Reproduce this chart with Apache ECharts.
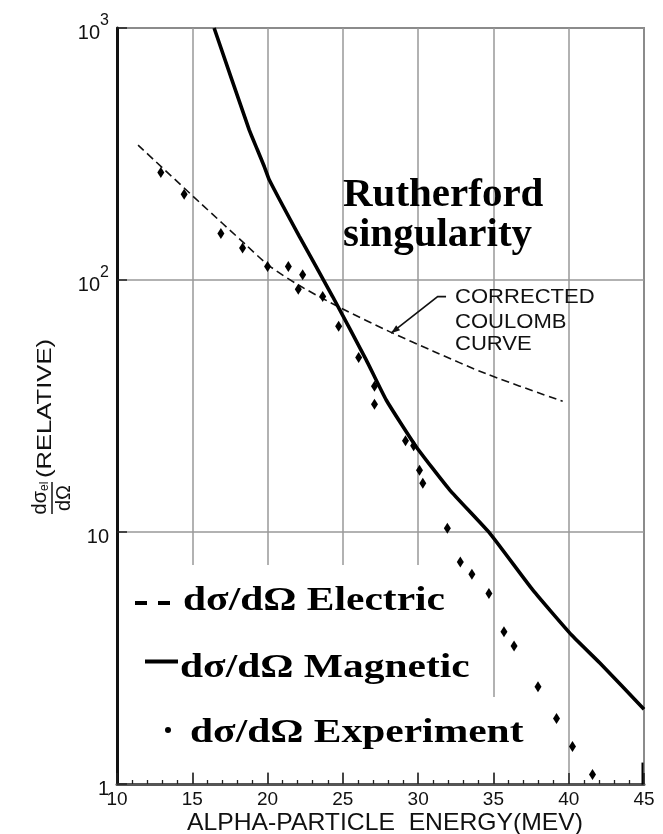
<!DOCTYPE html>
<html>
<head>
<meta charset="utf-8">
<script src="https://cdn.jsdelivr.net/npm/echarts@6/dist/echarts.min.js"></script>
<style>
html,body{margin:0;padding:0;background:#fff;}
#c{width:663px;height:834px;}
</style>
</head>
<body>
<div id="c"></div>
<script>
// ---- data ----
const xTickValues = [10, 15, 20, 25, 30, 35, 40, 45];
const yTickValues = [1, 10, 100, 1000];
const yTickLabels = ['{b|1}', '{b|10}', '{b|10}{s|2}', '{b|10}{s|3}'];

const electricEnergy = [11.4, 15.5, 18.5, 20.1, 22.2, 25.0, 28.1, 31.0, 34.5, 39.6];
const electricValues = [343, 203, 139, 114, 94.4, 76.7, 62.4, 52.2, 42.5, 33.0];

const magneticEnergy = [16.45, 18.78, 19.33, 19.78, 20.11, 22.11, 24.32, 26.55, 27.88, 29.87, 32.09, 34.75, 37.61, 40.19, 42.07, 45];
const magneticValues = [1000, 394, 328, 282, 250, 149, 86, 48.2, 33.4, 21.8, 14.7, 9.9, 5.89, 3.90, 3.02, 1.98];

const experimentEnergy = [12.91, 14.46, 16.90, 18.34, 20.0, 21.38, 22.33, 22.04, 23.66, 24.72, 26.05, 27.1, 27.1, 29.16, 29.7, 30.09, 30.31, 31.94, 32.8, 33.57, 34.7, 35.7, 36.37, 37.96, 39.19, 40.25, 41.58];
const experimentValues = [267, 219, 153, 134, 113, 113, 105, 92, 86, 65.6, 49.3, 37.9, 32.1, 23.0, 22.0, 17.6, 15.6, 10.35, 7.6, 6.8, 5.7, 4.02, 3.53, 2.43, 1.82, 1.41, 1.09];

const limitEnergy = [44.9];
const limitValues = [1.1];

const annotationTip = [28.2, 61.5];

// ---- build ----
const zip = (a, b) => a.map((x, i) => [x, b[i]]);
const SANS = '"Liberation Sans", Arial, sans-serif';
const SERIF = '"Liberation Serif", "Times New Roman", serif';

const chart = echarts.init(document.getElementById('c'), null, {renderer: 'canvas'});

const option = {
  backgroundColor: '#fff',
  animation: false,
  grid: {left: 117, right: 19, top: 28, bottom: 50, show: true, borderColor: '#333', borderWidth: 1.5, backgroundColor: 'transparent'},
  xAxis: {
    type: 'value', min: 10, max: 45, interval: 5,
    axisLine: {show: true, onZero: false, lineStyle: {color: '#555', width: 3}},
    axisTick: {show: true, inside: true, length: 11, lineStyle: {color: '#222', width: 1.5}},
    minorTick: {show: true, splitNumber: 5, length: 4, lineStyle: {color: '#222', width: 1.3}},
    splitLine: {show: true, lineStyle: {color: '#999', width: 1.5}},
    axisLabel: {margin: 6, fontFamily: SANS, fontSize: 19, color: '#111', showMinLabel: true, showMaxLabel: true,
      formatter: v => xTickValues.indexOf(v) >= 0 ? String(v) : ''}
  },
  yAxis: {
    type: 'log', logBase: 10, min: 1, max: 1000,
    axisLine: {show: true, lineStyle: {color: '#111', width: 3}},
    axisTick: {show: true, inside: true, length: 10, lineStyle: {color: '#222', width: 1.5}},
    splitLine: {show: true, lineStyle: {color: '#999', width: 1.5}},
    axisLabel: {
      margin: 8, color: '#111', fontFamily: SANS,
      formatter: v => { const i = yTickValues.findIndex(t => Math.abs(t - v) < 1e-6 * t); return i >= 0 ? yTickLabels[i] : ''; },
      rich: {
        b: {fontFamily: SANS, fontSize: 20, color: '#111', lineHeight: 30, verticalAlign: 'bottom'},
        s: {fontFamily: SANS, fontSize: 16, color: '#111', lineHeight: 16, verticalAlign: 'top'}
      }
    }
  },
  series: [
    {type: 'line', name: 'Electric', data: zip(electricEnergy, electricValues), showSymbol: false, smooth: 0.3,
      lineStyle: {color: '#111', width: 1.6, type: [8, 4.5]}, z: 3},
    {type: 'line', name: 'Magnetic', data: zip(magneticEnergy, magneticValues), showSymbol: false, smooth: 0.15,
      lineStyle: {color: '#000', width: 3.6}, z: 4},
    {type: 'scatter', name: 'Experiment', data: zip(experimentEnergy, experimentValues), symbol: 'diamond', symbolSize: [7, 11],
      itemStyle: {color: '#000', opacity: 1}, z: 5},
    {type: 'scatter', name: 'Limit', data: zip(limitEnergy, limitValues), symbol: 'rect', symbolSize: [2, 22],
      itemStyle: {color: '#000', opacity: 1}, z: 5}
  ]
};
chart.setOption(option);

// ---- annotations (placed after scales exist) ----
const px = (e, v) => chart.convertToPixel({gridIndex: 0}, [e, v]);
const baseMid = (baseline, size) => baseline - 0.34 * size;

const tip = px(annotationTip[0], annotationTip[1]);
const elbow = [tip[0] + 46.6, tip[1] - 36.6];
const tail = [elbow[0] + 8.4, elbow[1]];
const dir = [tip[0] - elbow[0], tip[1] - elbow[1]];
const dl = Math.hypot(dir[0], dir[1]);
const ux = dir[0] / dl, uy = dir[1] / dl;
const aL = 9, aW = 3.2;
const arrowPts = [
  tip,
  [tip[0] - ux * aL - uy * aW, tip[1] - uy * aL + ux * aW],
  [tip[0] - ux * aL + uy * aW, tip[1] - uy * aL - ux * aW]
];

const graphic = [
  // white panel behind the legend (covers grid lines)
  {type: 'rect', z: 1, shape: {x: 120, y: 565, width: 350, height: 207}, style: {fill: '#fff'}},
  {type: 'rect', z: 1, shape: {x: 120, y: 697, width: 410, height: 75}, style: {fill: '#fff'}},

  // legend
  {type: 'rect', z: 10, shape: {x: 135, y: 601, width: 12, height: 4}, style: {fill: '#000'}},
  {type: 'rect', z: 10, shape: {x: 158, y: 601, width: 12, height: 4}, style: {fill: '#000'}},
  {type: 'text', z: 10, x: 183, y: baseMid(613, 34), scaleX: 1.22,
    style: {text: 'dσ/dΩ Electric', font: 'bold 34px ' + SERIF, fill: '#000', align: 'left', verticalAlign: 'middle'}},
  {type: 'rect', z: 10, shape: {x: 145, y: 659.5, width: 33, height: 4}, style: {fill: '#000'}},
  {type: 'text', z: 10, x: 180, y: baseMid(680, 34), scaleX: 1.22,
    style: {text: 'dσ/dΩ Magnetic', font: 'bold 34px ' + SERIF, fill: '#000', align: 'left', verticalAlign: 'middle'}},
  {type: 'circle', z: 10, shape: {cx: 168, cy: 730, r: 3}, style: {fill: '#000'}},
  {type: 'text', z: 10, x: 190, y: baseMid(745, 34), scaleX: 1.22,
    style: {text: 'dσ/dΩ Experiment', font: 'bold 34px ' + SERIF, fill: '#000', align: 'left', verticalAlign: 'middle'}},

  // Rutherford singularity
  {type: 'text', z: 10, x: 343, y: baseMid(209, 41),
    style: {text: 'Rutherford', font: 'bold 41px ' + SERIF, fill: '#000', align: 'left', verticalAlign: 'middle'}},
  {type: 'text', z: 10, x: 343, y: baseMid(249, 41),
    style: {text: 'singularity', font: 'bold 41px ' + SERIF, fill: '#000', align: 'left', verticalAlign: 'middle'}},

  // corrected coulomb curve annotation
  {type: 'text', z: 10, x: 455, y: 297, scaleX: 1.05,
    style: {text: 'CORRECTED', font: '21px ' + SANS, fill: '#111', align: 'left', verticalAlign: 'middle'}},
  {type: 'text', z: 10, x: 455, y: 322.5, scaleX: 1.05,
    style: {text: 'COULOMB', font: '21px ' + SANS, fill: '#111', align: 'left', verticalAlign: 'middle'}},
  {type: 'text', z: 10, x: 455, y: 344, scaleX: 1.05,
    style: {text: 'CURVE', font: '21px ' + SANS, fill: '#111', align: 'left', verticalAlign: 'middle'}},
  {type: 'polyline', z: 10, shape: {points: [tail, elbow, tip]}, style: {stroke: '#111', lineWidth: 1.6, fill: null}},
  {type: 'polygon', z: 10, shape: {points: arrowPts}, style: {fill: '#111'}},

  // x axis name
  {type: 'text', z: 10, x: 187, y: 823.5, scaleX: 1.03,
    style: {text: 'ALPHA-PARTICLE  ENERGY(MEV)', font: '24px ' + SANS, fill: '#111', align: 'left', verticalAlign: 'middle'}},

  // y axis name (rotated)
  {type: 'group', x: 52, y: 498, rotation: Math.PI / 2, z: 10, children: [
    {type: 'line', shape: {x1: -16, y1: 0, x2: 16, y2: 0}, style: {stroke: '#111', lineWidth: 1.5}},
    {type: 'text', x: 0, y: -2, style: {text: '{a|dσ}{b|el}', align: 'center', verticalAlign: 'bottom',
      rich: {a: {fontFamily: SANS, fontSize: 20, fill: '#111', lineHeight: 20, verticalAlign: 'top'},
             b: {fontFamily: SANS, fontSize: 12, fill: '#111', lineHeight: 12, verticalAlign: 'top', padding: [9, 0, 0, 0]}}}},
    {type: 'text', x: 0, y: 2, style: {text: 'dΩ', font: '20px ' + SANS, fill: '#111', align: 'center', verticalAlign: 'top'}},
    {type: 'text', x: 20, y: -7, scaleX: 1.22,
      style: {text: '(RELATIVE)', font: '21px ' + SANS, fill: '#111', align: 'left', verticalAlign: 'middle'}}
  ]}
];
chart.setOption({graphic: graphic});
</script>
</body>
</html>
